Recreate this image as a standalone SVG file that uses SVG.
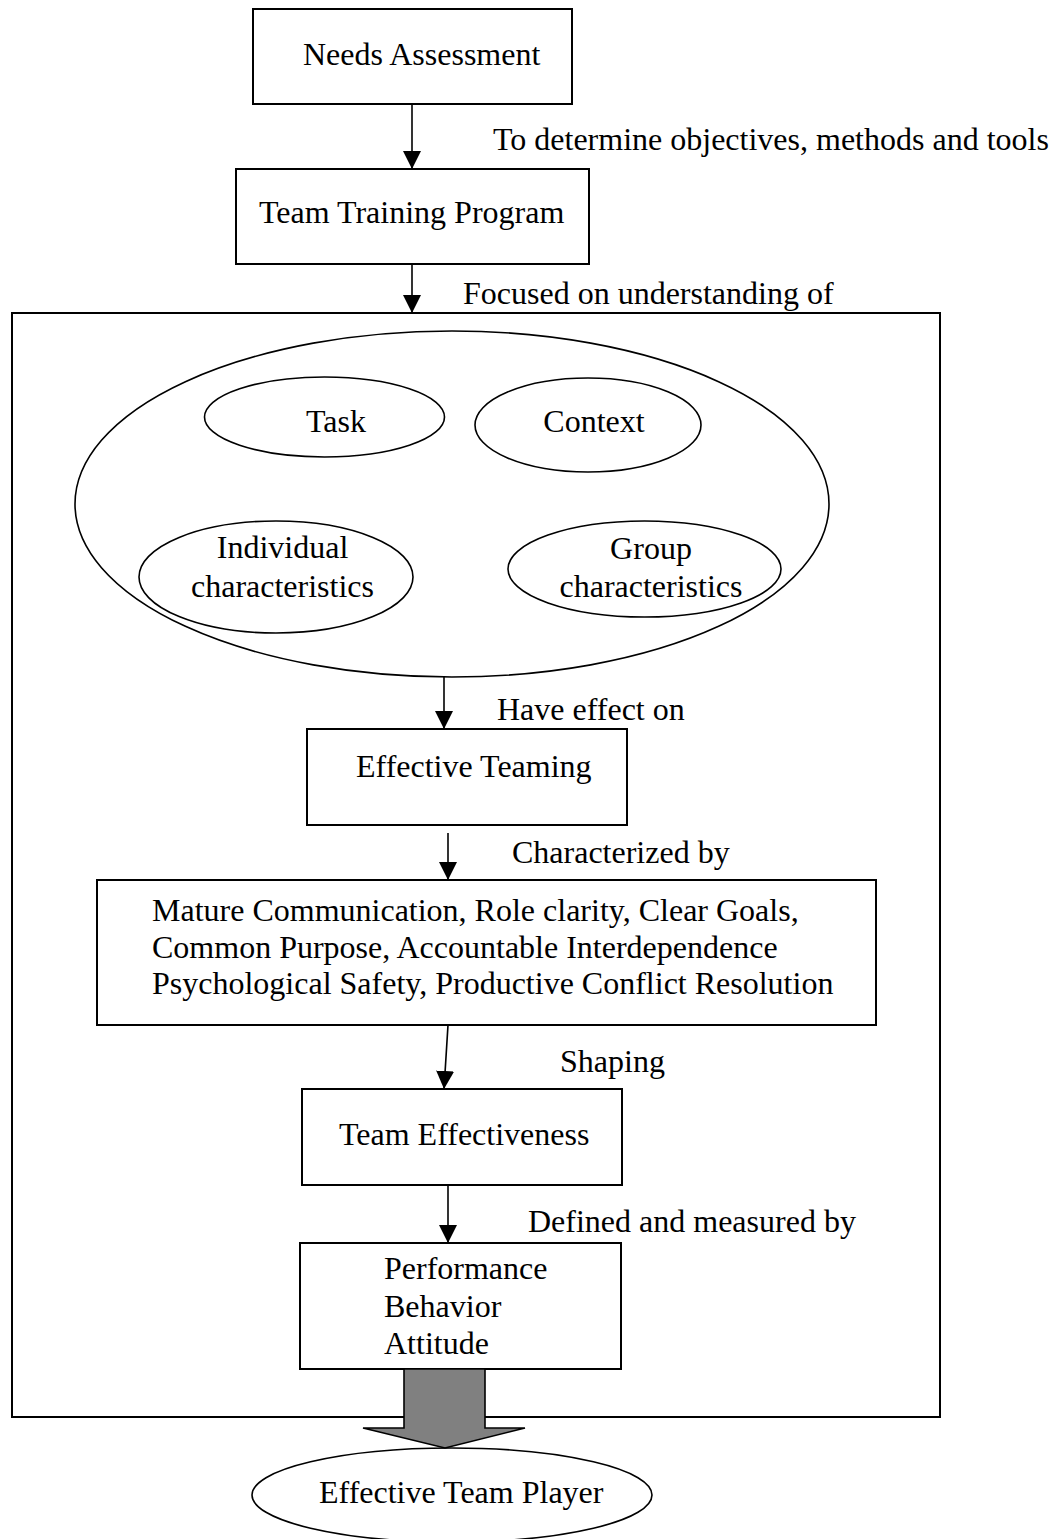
<svg xmlns="http://www.w3.org/2000/svg" width="1057" height="1539" viewBox="0 0 1057 1539">
<style>
text{font-family:"Liberation Serif","Times New Roman",serif;font-size:32px;fill:#000}
.box{fill:#fff;stroke:#000;stroke-width:2}
.ell{fill:none;stroke:#000;stroke-width:1.6}
.ellw{fill:#fff;stroke:#000;stroke-width:1.6}
.con{stroke:#000;stroke-width:1.6;fill:none;marker-end:url(#ah)}
.mid{text-anchor:middle}
</style>
<defs>
<marker id="ah" markerUnits="userSpaceOnUse" markerWidth="18" markerHeight="18" viewBox="0 0 16 16" refX="16" refY="8" orient="auto">
<path d="M0,0 L16,8 L0,16 Z" fill="#000"/>
</marker>
</defs>
<g id="outer"><rect class="box" x="12" y="313" width="928" height="1104" fill="none"/></g>
<g id="needs"><rect class="box" x="253" y="9" width="319" height="95"/><text x="303" y="65">Needs Assessment</text></g>
<g id="training"><rect class="box" x="236" y="169" width="353" height="95"/><text x="259" y="223">Team Training Program</text></g>
<g id="understanding"><ellipse class="ell" cx="452" cy="504" rx="377" ry="173"/></g>
<g id="task"><ellipse class="ell" cx="324.5" cy="417" rx="120" ry="40"/><text class="mid" x="336" y="432">Task</text></g>
<g id="context"><ellipse class="ell" cx="588" cy="425" rx="113" ry="47"/><text class="mid" x="594" y="432">Context</text></g>
<g id="individual"><ellipse class="ell" cx="276" cy="577" rx="137" ry="56"/><text class="mid" x="282.5" y="558">Individual</text><text class="mid" x="282.5" y="597">characteristics</text></g>
<g id="group"><ellipse class="ell" cx="644.5" cy="569" rx="136.5" ry="48"/><text class="mid" x="651" y="559">Group</text><text class="mid" x="651" y="597">characteristics</text></g>
<g id="teaming"><rect class="box" x="307" y="729" width="320" height="96"/><text x="356" y="777">Effective Teaming</text></g>
<g id="characteristics"><rect class="box" x="97" y="880" width="779" height="145"/><text x="152" y="921">Mature Communication, Role clarity, Clear Goals,</text><text x="152" y="958">Common Purpose, Accountable Interdependence</text><text x="152" y="994">Psychological Safety, Productive Conflict Resolution</text></g>
<g id="effectiveness"><rect class="box" x="302" y="1089" width="320" height="96"/><text x="339" y="1145">Team Effectiveness</text></g>
<g id="measures"><rect class="box" x="300" y="1243" width="321" height="126"/><text x="384" y="1279">Performance</text><text x="384" y="1317">Behavior</text><text x="384" y="1354">Attitude</text></g>
<g id="player"><ellipse class="ellw" cx="452" cy="1495" rx="200" ry="47"/><text x="319" y="1503">Effective Team Player</text></g>
<g id="connectors">
<line class="con" x1="412" y1="104" x2="412" y2="169"/>
<line class="con" x1="412" y1="264" x2="412" y2="313"/>
<line class="con" x1="444" y1="677" x2="444" y2="729"/>
<line class="con" x1="448" y1="833" x2="448" y2="880"/>
<line class="con" x1="448" y1="1025" x2="444" y2="1089"/>
<line class="con" x1="448" y1="1185" x2="448" y2="1243"/>
<polygon points="404,1369 485,1369 485,1428 525,1428 445,1448 363,1428 404,1428" fill="#808080" stroke="#000" stroke-width="1.6"/>
</g>
<g id="labels">
<text x="493" y="150">To determine objectives, methods and tools</text>
<text x="463" y="304">Focused on understanding of</text>
<text x="497" y="720">Have effect on</text>
<text x="512" y="863">Characterized by</text>
<text x="560" y="1072">Shaping</text>
<text x="528" y="1232">Defined and measured by</text>
</g>
</svg>
